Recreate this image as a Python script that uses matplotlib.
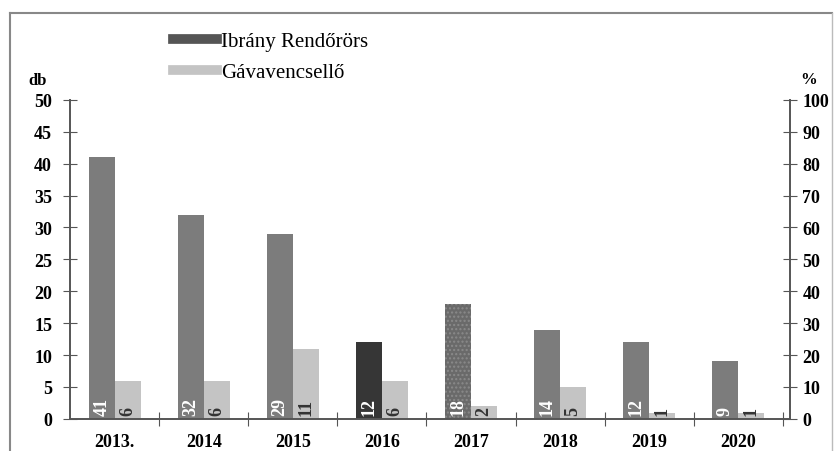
import matplotlib.pyplot as plt
from matplotlib.lines import Line2D
import numpy as np

# Data
years = ["2013.", "2014", "2015", "2016", "2017", "2018", "2019", "2020"]
ibrany = [41, 32, 29, 12, 18, 14, 12, 9]
gava = [6, 6, 11, 6, 2, 5, 1, 1]
left_ticks = [0, 5, 10, 15, 20, 25, 30, 35, 40, 45, 50]
right_ticks = [0, 10, 20, 30, 40, 50, 60, 70, 80, 90, 100]

# Styling
serif = ['Liberation Serif', 'DejaVu Serif']
plt.rcParams['font.family'] = serif
plt.rcParams['font.weight'] = 'bold'
dark_colors = ['#7c7c7c', '#7c7c7c', '#7c7c7c', '#363636', '#6a6a6a', '#7c7c7c', '#7c7c7c', '#7c7c7c']
light_color = '#c4c4c4'
spine_color = '#555555'

fig = plt.figure(figsize=(8.35, 4.52), dpi=100)
ax = fig.add_axes([0.084, 0.071, 0.862, 0.706])

x = np.arange(len(years))
w = 0.29
bars_d = ax.bar(x - w / 2, ibrany, w, color=dark_colors, zorder=2)
bars_l = ax.bar(x + w / 2, gava, w, color=light_color, zorder=2)
bars_d[4].set_hatch('....')
bars_d[4].set_edgecolor('#8a8a8a')
bars_d[4].set_linewidth(0)

for b, v in zip(bars_d, ibrany):
    ax.text(b.get_x() + b.get_width() / 2, 0.6, str(v), rotation=90,
            ha='center', va='bottom', color='white', fontsize=13, zorder=3)
for b, v in zip(bars_l, gava):
    ax.text(b.get_x() + b.get_width() / 2, 0.6, str(v), rotation=90,
            ha='center', va='bottom', color='#333333', fontsize=13, zorder=3)

ax.set_xlim(-0.5, 7.58)
ax.set_ylim(0, 50)
ax.set_yticks(left_ticks)
ax.set_xticks(x + 0.5, minor=False)
ax.set_xticklabels([])
ax.set_xticks(x, minor=True)
ax.set_xticklabels(years, minor=True, fontsize=13)
ax.tick_params(axis='x', which='minor', length=0, pad=10)
ax.tick_params(axis='x', which='major', direction='inout', length=10, color=spine_color)
ax.tick_params(axis='y', direction='inout', length=10, color=spine_color, labelsize=13, pad=8)
for s in ['top', 'right']:
    ax.spines[s].set_visible(False)
for s in ['left', 'bottom']:
    ax.spines[s].set_color(spine_color)
    ax.spines[s].set_linewidth(1.4)

ax2 = ax.twinx()
ax2.set_ylim(0, 100)
ax2.set_yticks(right_ticks)
ax2.tick_params(axis='y', direction='inout', length=10, color=spine_color, labelsize=13, pad=4)
for s in ['top', 'left', 'bottom']:
    ax2.spines[s].set_visible(False)
ax2.spines['right'].set_color(spine_color)
ax2.spines['right'].set_linewidth(1.4)

fig.text(0.034, 0.812, "db", fontsize=12)
fig.text(0.958, 0.815, "%", fontsize=12)

handles = [Line2D([0], [0], color='#555555', lw=7),
           Line2D([0], [0], color=light_color, lw=7)]
fig.legend(handles, ["Ibrány Rendőrörs", "Gávavencsellő"], loc='upper left',
           bbox_to_anchor=(0.185, 0.97), frameon=False,
           prop={'family': serif, 'size': 15, 'weight': 'normal'},
           handlelength=2.1, handletextpad=0.2, labelspacing=0.55)

# outer frame
fig.add_artist(Line2D([0.012, 0.997], [0.97, 0.97], color='#888888', lw=1.5))
fig.add_artist(Line2D([0.012, 0.012], [0.0, 0.97], color='#888888', lw=1.5))
fig.add_artist(Line2D([0.997, 0.997], [0.0, 0.97], color='#bbbbbb', lw=1.0))

plt.savefig("out.png", dpi=100)
